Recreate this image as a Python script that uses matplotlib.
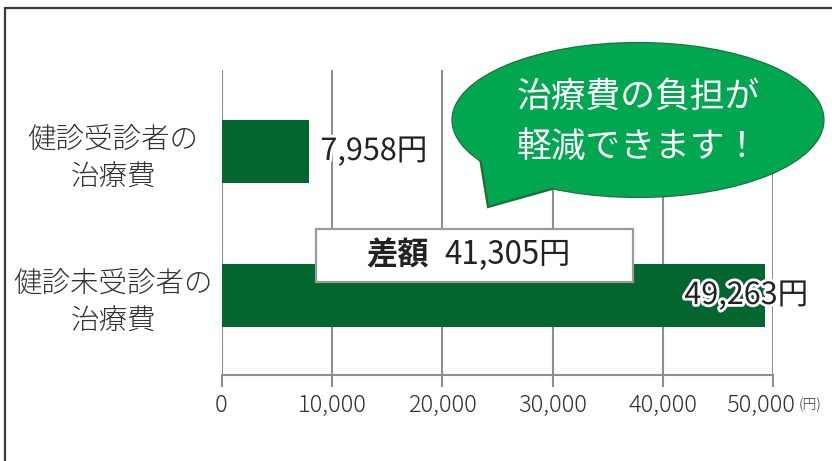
import matplotlib
matplotlib.use("Agg")
import matplotlib.pyplot as plt
import matplotlib.patheffects as pe
from matplotlib.patches import Ellipse, Polygon, Rectangle
from matplotlib.transforms import ScaledTranslation

plt.rcParams['font.family'] = ['Noto Sans CJK JP', 'DejaVu Sans']

# data
categories = ["健診受診者の\n治療費", "健診未受診者の\n治療費"]
costs = [7958, 49263]
diff_label = "41,305円"
xticks = [0, 10000, 20000, 30000, 40000, 50000]
xtick_labels = ["0", "10,000", "20,000", "30,000", "40,000", "50,000"]
bubble_lines = ["治療費の負担が", "軽減できます！"]

W, H = 832, 461
bar_green = "#03662f"
bub_green = "#00a650"
bub_edge = "#1d6e37"
grid_gray = "#8e8e8e"
txt_gray = "#333333"


def px(x, y):
    # pixel (from top-left) -> figure fraction
    return (x / W, 1 - y / H)


fig = plt.figure(figsize=(W / 100, H / 100), dpi=100)
ax = fig.add_axes([221.5 / W, 1 - 375 / H, (773.3 - 221.5) / W, (375 - 70) / H])

pos = [0, 1]
ax.barh(pos, costs, height=0.4375, color=bar_green, zorder=3)
ax.set_xlim(0, 50000)
ax.set_ylim(1.552, -0.566)

ax.set_xticks(xticks, labels=xtick_labels)
ax.grid(axis="x", color=grid_gray, linewidth=1.5, zorder=1)
ax.set_axisbelow(True)
ax.tick_params(axis="x", length=8.5, width=1.5, color=grid_gray, pad=4.5,
               labelsize=17, labelcolor=txt_gray)
for lbl in ax.get_xticklabels():
    lbl.set_fontweight("light")
# last tick label is nudged left to leave room for the unit
last = ax.get_xticklabels()[-1]
last.set_transform(last.get_transform() + ScaledTranslation(-13 / 100, 0, fig.dpi_scale_trans))

for s in ["top", "right", "left"]:
    ax.spines[s].set_visible(False)
ax.spines["bottom"].set_color(grid_gray)
ax.spines["bottom"].set_linewidth(1.5)

ax.set_yticks(pos, labels=categories)
ax.tick_params(axis="y", length=0, pad=78, labelsize=20.5, labelcolor=txt_gray)
for lbl in ax.get_yticklabels():
    lbl.set_ha("center")
    lbl.set_multialignment("center")
    lbl.set_linespacing(1.3)
    lbl.set_fontweight("light")

# value labels with white outline
halo = [pe.withStroke(linewidth=4, foreground="white")]
ax.annotate(f"{costs[0]:,}円", (costs[0], pos[0]), xytext=(8, 0),
            textcoords="offset points", ha="left", va="center",
            fontsize=22, color="#222222", path_effects=halo, zorder=6)
ax.annotate(f"{costs[1]:,}円", (costs[1], pos[1]), xytext=(31, 0),
            textcoords="offset points", ha="right", va="center",
            fontsize=22, color="#222222", path_effects=halo, zorder=6)

# (円) unit
fig.text(*px(799, 405), "(円)", fontsize=10, color=txt_gray, ha="left", va="center",
         fontweight="light")

# difference box
x0, y0 = px(315.7, 282)
x1, y1 = px(632.7, 228.5)
fig.patches.append(Rectangle((x0, y0), x1 - x0, y1 - y0, transform=fig.transFigure,
                             facecolor="white", edgecolor="#9a9a9a", linewidth=1.6,
                             zorder=5))
fig.text(*px(429, 255), "差額", fontsize=22.5, fontweight="bold", color="#222222",
         ha="right", va="center", zorder=6)
fig.text(*px(444, 255), diff_label, fontsize=22.5, color="#222222",
         ha="left", va="center", zorder=6)

# speech bubble
cx, cy = px(638, 120)
ew, eh = 371 / W, 154 / H
fig.patches.append(Ellipse((cx, cy), ew, eh, transform=fig.transFigure,
                           facecolor=bub_green, edgecolor=bub_edge, linewidth=1.6, zorder=7))
tail = [px(480, 158), px(488, 207), px(552, 189), px(540, 150)]
fig.patches.append(Polygon(tail, closed=True, transform=fig.transFigure,
                           facecolor=bub_green, edgecolor=bub_edge, linewidth=1.6,
                           joinstyle="miter", zorder=8))
fig.patches.append(Ellipse((cx, cy), ew, eh, transform=fig.transFigure,
                           facecolor=bub_green, edgecolor="none", zorder=9))
fig.text(*px(517, 97), bubble_lines[0], fontsize=25, color="white",
         ha="left", va="center", zorder=10)
fig.text(*px(517, 147), bubble_lines[1], fontsize=25, color="white",
         ha="left", va="center", zorder=10)

# outer frame
fx, fy = px(4.5, 8)
fig.patches.append(Rectangle((fx, -0.1), 1.2, fy + 0.1, transform=fig.transFigure,
                             facecolor="none", edgecolor="#3a3a3a", linewidth=1.6,
                             zorder=0))

fig.savefig("out.png", dpi=100)
